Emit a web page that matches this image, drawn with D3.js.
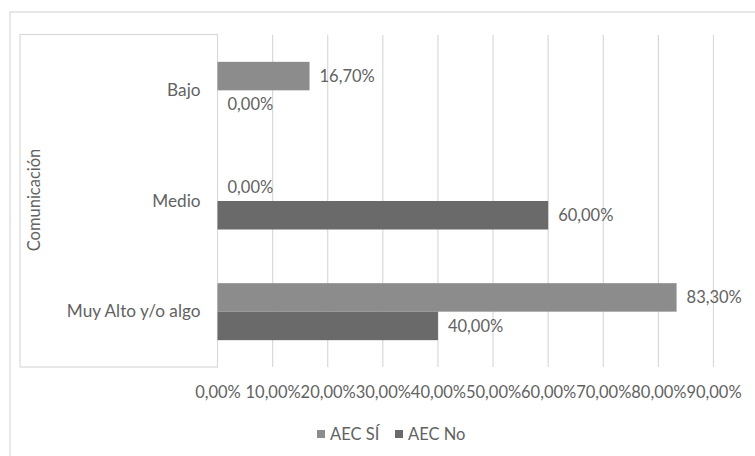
<!DOCTYPE html>
<html><head><meta charset="utf-8">
<script src="https://cdn.jsdelivr.net/npm/d3@7"></script>
<style>body{margin:0;background:#fff}svg{display:block}text{font-family:Lato,"Open Sans",sans-serif;fill:#626262}</style>
</head><body><svg id="c" width="755" height="456"></svg>
<script>
const categories = ["Bajo", "Medio", "Muy Alto y/o algo"];
const seriesNames = ["AEC SÍ", "AEC No"];
const aecSi = [0.167, 0.0, 0.833];
const aecNo = [0.0, 0.6, 0.4];
const tickValues = [0, 0.1, 0.2, 0.3, 0.4, 0.5, 0.6, 0.7, 0.8, 0.9];
const axisTitle = "Comunicación";
const colors = ["#8c8c8c", "#6a6a6a"];

const FS = 16.5;
const svg = d3.select("#c");
const fmt = v => d3.format(".2f")(v * 100).replace(".", ",") + "%";

svg.append("rect").attr("x", 10).attr("y", 12).attr("width", 770).attr("height", 470)
  .attr("fill", "none").attr("stroke", "#d9d9d9").attr("stroke-width", 1.2);

const x = d3.scaleLinear().domain([0, 0.9]).range([217.5, 713.5]);
const y = d3.scaleBand().domain(categories).range([35, 367]).paddingInner(0.485).paddingOuter(0.2425);
const ys = d3.scaleBand().domain(seriesNames).range([0, y.bandwidth()]);

// inner label box
svg.append("rect").attr("x", 20).attr("y", 34.5).attr("width", 197.5).attr("height", 332.5)
  .attr("fill", "none").attr("stroke", "#d9d9d9").attr("stroke-width", 1.2);

// gridlines
svg.append("g").selectAll("line").data(tickValues.slice(1)).join("line")
  .attr("x1", d => x(d)).attr("x2", d => x(d)).attr("y1", 35).attr("y2", 367)
  .attr("stroke", "#d9d9d9").attr("stroke-width", 1.2);

// x tick labels
const xa = svg.append("g").attr("transform", "translate(0,367)")
  .call(d3.axisBottom(x).tickValues(tickValues).tickFormat(fmt).tickSize(0).tickPadding(19));
xa.select(".domain").remove();
xa.attr("font-size", null).attr("font-family", null);
xa.selectAll("text").attr("font-size", FS).attr("fill", "#626262");

// y category labels
const ya = svg.append("g").attr("transform", "translate(217.5,0)")
  .call(d3.axisLeft(y).tickSize(0).tickPadding(17));
ya.select(".domain").remove();
ya.attr("font-size", null).attr("font-family", null);
ya.selectAll("text").attr("font-size", 17.2).attr("fill", "#626262");

const series = [aecSi, aecNo];
series.forEach((vals, si) => {
  const g = svg.append("g");
  g.selectAll("rect").data(vals).join("rect")
    .attr("x", x(0))
    .attr("y", (d, i) => y(categories[i]) + ys(seriesNames[si]))
    .attr("width", d => x(d) - x(0))
    .attr("height", ys.bandwidth())
    .attr("fill", colors[si]);
  g.selectAll("text").data(vals).join("text")
    .attr("x", d => x(d) + 10)
    .attr("y", (d, i) => y(categories[i]) + ys(seriesNames[si]) + ys.bandwidth() / 2)
    .attr("dy", "0.35em")
    .attr("font-size", FS)
    .text(fmt);
});

// axis title
svg.append("text").attr("transform", "translate(34,200) rotate(-90)")
  .attr("text-anchor", "middle").attr("dy", "0.35em").attr("font-size", FS).text(axisTitle);

// legend
const legendX = [317, 395];
seriesNames.forEach((n, i) => {
  svg.append("rect").attr("x", legendX[i]).attr("y", 430).attr("width", 8).attr("height", 8).attr("fill", colors[i]);
  svg.append("text").attr("x", legendX[i] + 13).attr("y", 434).attr("dy", "0.35em")
    .attr("font-size", FS).text(n);
});
</script></body></html>
